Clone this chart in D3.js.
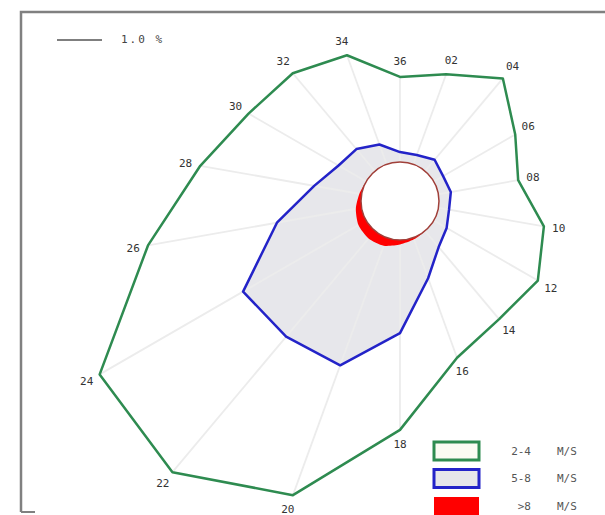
<!DOCTYPE html>
<html><head><meta charset="utf-8">
<script src="https://cdn.jsdelivr.net/npm/d3@7"></script>
<style>body{margin:0;background:#fff}svg{display:block}text{font-family:"DejaVu Sans Mono",monospace}</style>
</head><body>
<svg id="c" width="605" height="515"></svg>
<script>
// Directions (tens of degrees), every 20°
const directions = ["02","04","06","08","10","12","14","16","18","20","22","24","26","28","30","32","34","36"];
// Frequency (%) per speed class
const freq2to4   = [2.13,2.69,2.09,1.80,2.38,2.67,2.56,2.84,4.22,6.09,7.00,6.84,4.82,3.64,3.02,2.84,2.58,1.89];
const freq5to8   = [0.22,0.33,0.24,0.28,0.24,0.33,0.47,0.96,2.07,3.02,3.07,3.16,1.91,1.07,0.71,0.64,0.47,0.22];
const freqAbove8 = [0,0,0,0,0,0,0,0.04,0.10,0.19,0.22,0.20,0.13,0.05,0,0,0,0];
const legendLabels = ["2-4","5-8",">8"];
const legendUnit = "M/S";
const scaleBarValue = 1.0;
const scaleBarLabel = "1.0 %";

const svg = d3.select("#c");
const cx = 400, cy = 201, calmR = 39, pxPerPct = 45;
const r = d3.scaleLinear().domain([0, 1]).range([calmR, calmR + pxPerPct]);
const ang = d3.scalePoint().domain(directions).range([20, 360]);
const toRad = d => d * Math.PI / 180;
const pt = (dir, v, extra = 0) => {
  const a = toRad(ang(dir)), rr = r(v) + extra;
  return [cx + Math.sin(a) * rr, cy - Math.cos(a) * rr];
};
const g = svg.append("g");

// frame
svg.append("path").attr("d", "M21,512 L21,12 L605,12").attr("fill","none").attr("stroke","#808080").attr("stroke-width",2.5);
svg.append("path").attr("d", "M21,512 L35,512").attr("fill","none").attr("stroke","#808080").attr("stroke-width",2);

const line = d3.line().curve(d3.curveLinearClosed);

// outer polygon
g.append("path").attr("d", line(directions.map((d,i)=>pt(d,freq2to4[i])))).attr("fill","#fff").attr("stroke","none");
// blue fill
g.append("path").attr("d", line(directions.map((d,i)=>pt(d,freq5to8[i])))).attr("fill","#e7e7eb").attr("stroke","none");
// rays
g.selectAll("line.ray").data(directions).join("line").attr("class","ray")
  .attr("x1", cx).attr("y1", cy)
  .attr("x2", (d,i)=>pt(d,freq2to4[i])[0]).attr("y2", (d,i)=>pt(d,freq2to4[i])[1])
  .attr("stroke","#ececec").attr("stroke-width",1.8);
// green outline
g.append("path").attr("d", line(directions.map((d,i)=>pt(d,freq2to4[i])))).attr("fill","none").attr("stroke","#2e8b50").attr("stroke-width",2.5).attr("stroke-linejoin","round");
// blue outline
g.append("path").attr("d", line(directions.map((d,i)=>pt(d,freq5to8[i])))).attr("fill","none").attr("stroke","#2323c8").attr("stroke-width",2.5).attr("stroke-linejoin","round");
// red
g.append("path").attr("d", d3.line().curve(d3.curveCardinalClosed.tension(0.3))(directions.map((d,i)=>pt(d,freqAbove8[i])))).attr("fill","#ff0000").attr("stroke","none");
// calm circle
g.append("circle").attr("cx",cx).attr("cy",cy).attr("r",calmR).attr("fill","#fff").attr("stroke","#a0403a").attr("stroke-width",1.5);

// direction labels
g.selectAll("text.dir").data(directions).join("text").attr("class","dir")
  .attr("x",(d,i)=>pt(d,freq2to4[i],15)[0]).attr("y",(d,i)=>pt(d,freq2to4[i],15)[1])
  .attr("text-anchor","middle").attr("dominant-baseline","central")
  .attr("font-size",11).attr("fill","#333").text(d=>d);

// scale bar
const sb = svg.append("g");
sb.append("line").attr("x1",57).attr("x2",57 + (r(scaleBarValue)-r(0))).attr("y1",40).attr("y2",40).attr("stroke","#555").attr("stroke-width",1.5);
sb.append("text").attr("x",121).attr("y",39).attr("dominant-baseline","central").attr("font-size",11).attr("letter-spacing",2).attr("fill","#444").text(scaleBarLabel);

// legend
const legStroke = ["#2e8b50","#2323c8","#ff0000"];
const legFill = ["#fbfbf2","#e6e6ea","#ff0000"];
const lg = svg.append("g");
legendLabels.forEach((lab,i)=>{
  const y = 451 + i*27.5;
  lg.append("rect").attr("x",434).attr("y",y-9).attr("width",45).attr("height",18)
    .attr("fill",legFill[i]).attr("stroke",legStroke[i]).attr("stroke-width",i===2?0:3);
  lg.append("text").attr("x",531).attr("y",y).attr("text-anchor","end").attr("dominant-baseline","central")
    .attr("font-size",11).attr("fill","#555").text(lab);
  lg.append("text").attr("x",557).attr("y",y).attr("dominant-baseline","central")
    .attr("font-size",11).attr("fill","#555").text(legendUnit);
});
</script>
</body></html>
